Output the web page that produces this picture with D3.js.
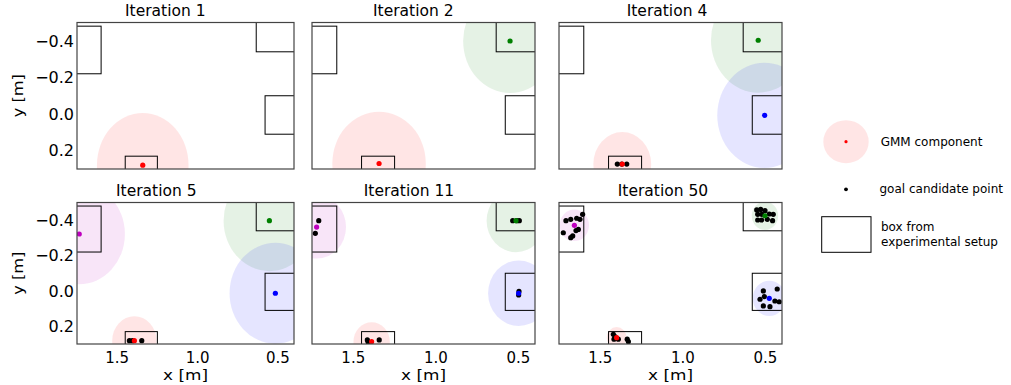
<!DOCTYPE html>
<html>
<head>
<meta charset="utf-8">
<script src="https://cdn.jsdelivr.net/npm/d3@7"></script>
<style>
  body { margin: 0; background: #fff; }
  text { font-family: "DejaVu Sans", sans-serif; fill: #000; }
</style>
</head>
<body>
<svg width="1011" height="385"></svg>
<script>
// axis ranges (metres), both axes inverted
var xDomain = [1.75, 0.4]
var yDomain = [-0.5, 0.3]
var xTicks = [1.5, 1.0, 0.5]
var yTicks = [-0.4, -0.2, 0.0, 0.2]

var iterations = [1, 2, 4, 5, 11, 50]

// boxes from experimental setup [xFrom, xTo, yFrom, yTo]
var boxes = [
  [1.6, 1.8, -0.48, -0.22],
  [0.35, 0.635, -0.55, -0.34],
  [0.35, 0.58, -0.1, 0.11],
  [1.25, 1.45, 0.23, 0.35]
]

// GMM components per iteration: [colour, x, y, radius]
var gmm = [
  [["r", 1.341, 0.279, 0.285]],
  [["r", 1.344, 0.270, 0.283], ["g", 0.551, -0.399, 0.284]],
  [["g", 0.544, -0.403, 0.286], ["b", 0.505, 0.007, 0.287], ["r", 1.367, 0.273, 0.175]],
  [["m", 1.736, -0.322, 0.284], ["g", 0.553, -0.397, 0.285], ["b", 0.516, 0.013, 0.285], ["r", 1.393, 0.281, 0.138]],
  [["m", 1.722, -0.361, 0.178], ["g", 0.515, -0.397, 0.178], ["b", 0.499, 0.013, 0.185], ["r", 1.389, 0.287, 0.11]],
  [["m", 1.657, -0.371, 0.089], ["g", 0.503, -0.425, 0.08], ["b", 0.477, 0.042, 0.1], ["r", 1.401, 0.264, 0.06]]
]

// goal candidate points per iteration
var candidates = [
  [],
  [],
  [[1.397, 0.273], [1.34, 0.273], [1.37, 0.273]],
  [[1.424, 0.281], [1.347, 0.281], [1.405, 0.281]],
  [[1.709, -0.397], [1.73, -0.326], [0.535, -0.397], [0.495, -0.397], [0.51, -0.397],
   [0.499, 0.023], [0.497, 0.003], [1.415, 0.277], [1.343, 0.277], [1.41, 0.29]],
  [[1.724, -0.329], [1.708, -0.397], [1.679, -0.405], [1.643, -0.411], [1.607, -0.433],
   [1.623, -0.405], [1.633, -0.348], [1.647, -0.341], [1.667, -0.311], [1.679, -0.301],
   [0.553, -0.458], [0.529, -0.461], [0.503, -0.454], [0.547, -0.433], [0.523, -0.433],
   [0.477, -0.435], [0.453, -0.433], [0.547, -0.401], [0.523, -0.401], [0.489, -0.405], [0.457, -0.397],
   [0.513, 0.0], [0.429, -0.011], [0.533, 0.047], [0.507, 0.032], [0.443, 0.057],
   [0.417, 0.061], [0.513, 0.085], [0.473, 0.089],
   [1.421, 0.245], [1.411, 0.258], [1.391, 0.273], [1.337, 0.273], [1.33, 0.287], [1.417, 0.273]]
]

var colors = { r: "#ff0000", g: "#008000", b: "#0000ff", m: "#bf00bf" }

var svg = d3.select("svg")

// panel layout: left, width, title centres (top row, bottom row)
var cols = [[77, 217, [165.3, 156.3]], [312, 223, [413.3, 409]], [559, 223, [667, 663]]]
// top, height, title baseline
var rows = [[22.5, 146.5, 16], [202.5, 141.5, 196]]

var fmt = function(v) {
  var s = d3.format(".1f")(Math.abs(v))
  return v < 0 ? "\u2212" + s : s
}

iterations.forEach(function(it, i) {
  var c = cols[i % 3], r = rows[Math.floor(i / 3)]
  var left = c[0], width = c[1], top = r[0], height = r[1]

  var x = d3.scaleLinear().domain(xDomain).range([left, left + width])
  var y = d3.scaleLinear().domain(yDomain).range([top, top + height])

  svg.append("clipPath").attr("id", "clip" + i)
    .append("rect").attr("x", left).attr("y", top).attr("width", width).attr("height", height)

  var g = svg.append("g").attr("clip-path", "url(#clip" + i + ")")

  g.selectAll("ellipse")
    .data(gmm[i])
    .enter().append("ellipse")
      .attr("cx", d => x(d[1]))
      .attr("cy", d => y(d[2]))
      .attr("rx", d => Math.abs(x(d[1] + d[3]) - x(d[1])))
      .attr("ry", d => Math.abs(y(d[2] + d[3]) - y(d[2])))
      .attr("fill", d => colors[d[0]])
      .attr("fill-opacity", 0.1)

  g.selectAll("rect.box")
    .data(boxes)
    .enter().append("rect")
      .attr("class", "box")
      .attr("x", d => Math.min(x(d[0]), x(d[1])))
      .attr("y", d => Math.min(y(d[2]), y(d[3])))
      .attr("width", d => Math.abs(x(d[1]) - x(d[0])))
      .attr("height", d => Math.abs(y(d[3]) - y(d[2])))
      .attr("fill", "none")
      .attr("stroke", "#000")
      .attr("stroke-width", 1)

  g.selectAll("circle.cand")
    .data(candidates[i])
    .enter().append("circle")
      .attr("class", "cand")
      .attr("cx", d => x(d[0]))
      .attr("cy", d => y(d[1]))
      .attr("r", 2.6)
      .attr("fill", "#000")

  g.selectAll("circle.mean")
    .data(gmm[i])
    .enter().append("circle")
      .attr("class", "mean")
      .attr("cx", d => x(d[1]))
      .attr("cy", d => y(d[2]))
      .attr("r", 2.6)
      .attr("fill", d => colors[d[0]])

  // frame
  svg.append("rect")
    .attr("x", left).attr("y", top).attr("width", width).attr("height", height)
    .attr("fill", "none").attr("stroke", "#444").attr("stroke-width", 1.2)

  svg.append("text")
    .attr("x", c[2][Math.floor(i / 3)]).attr("y", r[2])
    .attr("text-anchor", "middle")
    .style("font-size", "15.5px")
    .text("Iteration " + it)

  if (i % 3 == 0) {
    svg.append("g").selectAll("text")
      .data(yTicks)
      .enter().append("text")
        .attr("x", left - 3)
        .attr("y", d => y(d))
        .attr("dy", "0.36em")
        .attr("text-anchor", "end")
        .style("font-size", "16px")
        .text(fmt)

    svg.append("text")
      .attr("transform", "translate(23," + (top + height / 2) + ") rotate(-90) scale(1.12,1)")
      .attr("text-anchor", "middle")
      .style("font-size", "14.5px")
      .text("y [m]")
  }

  if (i >= 3) {
    svg.append("g").selectAll("text")
      .data(xTicks)
      .enter().append("text")
        .attr("x", d => x(d))
        .attr("y", 363)
        .attr("text-anchor", "middle")
        .style("font-size", "15px")
        .text(fmt)

    svg.append("text")
      .attr("transform", "translate(" + (left + width / 2) + ",380) scale(1.25,1)")
      .attr("text-anchor", "middle")
      .style("font-size", "13.5px")
      .text("x [m]")
  }
})

// legend
var legend = svg.append("g")
legend.append("ellipse")
  .attr("cx", 846).attr("cy", 141.7).attr("rx", 22.7).attr("ry", 21.5)
  .attr("fill", colors.r).attr("fill-opacity", 0.1)
legend.append("circle").attr("cx", 846).attr("cy", 141.7).attr("r", 1.6).attr("fill", colors.r)
legend.append("circle").attr("cx", 846).attr("cy", 189.3).attr("r", 1.9).attr("fill", "#000")
legend.append("rect")
  .attr("x", 821.7).attr("y", 216.7).attr("width", 49.3).attr("height", 35.6)
  .attr("fill", "none").attr("stroke", "#000").attr("stroke-width", 1)

var legendText = [["GMM component", 880.7, 146.3], ["goal candidate point", 879.5, 193.3], ["box from", 881, 231], ["experimental setup", 881, 245.7]]
legend.selectAll("text.lab")
  .data(legendText)
  .enter().append("text")
    .attr("class", "lab")
    .attr("x", d => d[1]).attr("y", d => d[2])
    .style("font-size", "12px")
    .text(d => d[0])
</script>
</body>
</html>
